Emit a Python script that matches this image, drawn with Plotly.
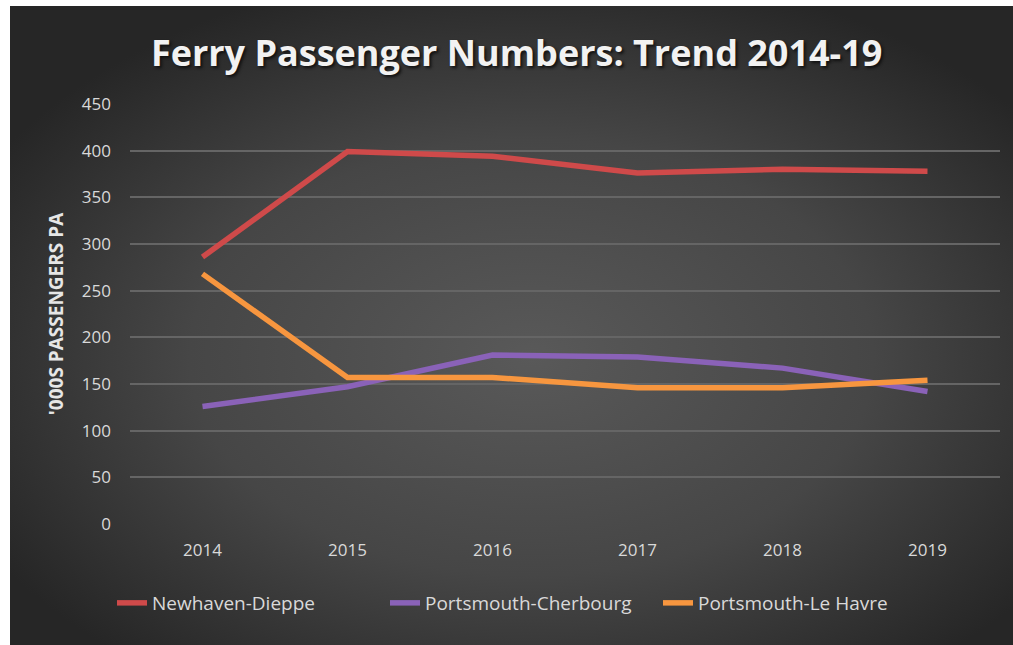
import base64

import plotly.graph_objects as go

years = ["2014", "2015", "2016", "2017", "2018", "2019"]
newhaven_dieppe = [286, 399, 394, 376, 380, 378]
portsmouth_cherbourg = [126, 147, 181, 179, 167, 142]
portsmouth_le_havre = [268, 157, 157, 146, 146, 154]
y_ticks = [0, 50, 100, 150, 200, 250, 300, 350, 400, 450]

SERIES = [
    ("Newhaven-Dieppe", newhaven_dieppe, "#cf4a4a"),
    ("Portsmouth-Cherbourg", portsmouth_cherbourg, "#8a62b8"),
    ("Portsmouth-Le Havre", portsmouth_le_havre, "#f7963f"),
]

W, H = 1013, 645
ML, MR, MT, MB = 130, 13, 104, 121
PW, PH = W - ML - MR, H - MT - MB

# dark radial-gradient card behind the chart (white strip left/top like the source)
svg = (
    '<svg xmlns="http://www.w3.org/2000/svg" width="1003" height="639" preserveAspectRatio="none">'
    '<defs><radialGradient id="g" cx="52%" cy="55%" r="62%" fx="52%" fy="55%">'
    '<stop offset="0" stop-color="#595959"/><stop offset="0.55" stop-color="#464646"/>'
    '<stop offset="1" stop-color="#262626"/></radialGradient></defs>'
    '<rect width="1003" height="639" fill="url(#g)"/></svg>'
)
bg_src = "data:image/svg+xml;base64," + base64.b64encode(svg.encode()).decode()

fig = go.Figure()
for name, values, color in SERIES:
    fig.add_trace(
        go.Scatter(
            x=years, y=values, mode="lines", name=name,
            line={"color": color, "width": 5.5},
        )
    )

fig.add_layout_image(
    source=bg_src, xref="paper", yref="paper",
    x=(10 - ML) / PW, y=(H - MB - 6) / PH,
    sizex=(W - 10) / PW, sizey=(H - 6) / PH,
    xanchor="left", yanchor="top", sizing="stretch", layer="below",
)

fig.update_layout(
    width=W,
    height=H,
    margin={"l": ML, "r": MR, "t": MT, "b": MB},
    paper_bgcolor="white",
    plot_bgcolor="rgba(0,0,0,0)",
    font={"family": "Open Sans", "color": "#d9d9d9", "size": 17},
    title={
        "text": "<b>Ferry Passenger Numbers: Trend 2014-19</b>",
        "x": 0.51, "xanchor": "center",
        "y": 1 - 53 / H, "yanchor": "middle",
        "font": {"family": "Open Sans", "size": 36, "color": "#f2f2f2",
                 "shadow": "2px 2px 3px #111"},
    },
    showlegend=True,
    legend={
        "orientation": "h",
        "x": 0.45, "xanchor": "center",
        "y": (H - MB - 603) / PH, "yanchor": "middle",
        "font": {"size": 19, "color": "#d9d9d9"},
        "bgcolor": "rgba(0,0,0,0)",
        "entrywidth": 228,
        "entrywidthmode": "pixels",
    },
    xaxis={
        "range": [-0.5, 5.5],
        "showgrid": False,
        "showline": False,
        "zeroline": False,
        "ticks": "",
        "ticklabelstandoff": 14,
        "tickfont": {"size": 17, "color": "#d9d9d9"},
    },
    yaxis={
        "range": [0, 450],
        "tickvals": y_ticks,
        "showgrid": True,
        "gridcolor": "#656565",
        "gridwidth": 1.5,
        "zeroline": False,
        "showline": False,
        "ticks": "",
        "ticklabelstandoff": 18,
        "tickfont": {"size": 17, "color": "#d9d9d9"},
        "title": {
            "text": "<b>'000S PASSENGERS PA</b>",
            "font": {"size": 19, "color": "#e6e6e6"},
            "standoff": 13,
        },
    },
)

fig.write_html(
    "out.html",
    config={"displayModeBar": False},
    post_script="document.body.style.margin='0';",
)
